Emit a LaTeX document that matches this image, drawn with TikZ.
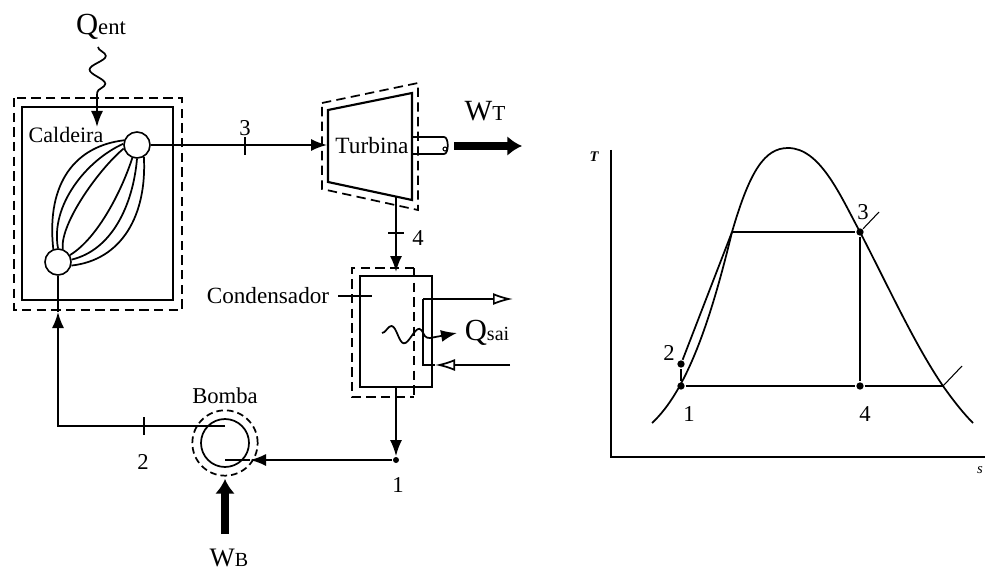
\documentclass[tikz,border=0pt]{standalone}
\usepackage{fontspec}
\setmainfont{Liberation Serif}
\usetikzlibrary{arrows.meta,decorations.pathmorphing}
\tikzset{
  lbl/.style={inner sep=0pt,font=\fontsize{17}{17}\selectfont},
  flow/.style={-{Latex[length=12pt,width=9pt]}},
  hollow/.style={-{Latex[open,length=15pt,width=9pt]}},
  work/.style={line width=6pt,-{Latex[length=11pt,width=15pt]}},
  box/.style={line width=1.6pt},
  dashbox/.style={line width=1.3pt,dash pattern=on 7pt off 4pt},
  drum/.style={circle,draw,fill=white,line width=1.2pt,minimum size=19.5pt,inner sep=0pt},
  tickh/.style={fill=black,inner sep=0pt,minimum width=1pt,minimum height=13pt},
  tickv/.style={fill=black,inner sep=0pt,minimum width=12pt,minimum height=1pt},
  state/.style={circle,fill=black,inner sep=0pt,minimum size=5.5pt},
  wave/.style={decorate,decoration={snake,segment length=21pt,amplitude=6pt}},
}
\begin{document}
\begin{tikzpicture}[x=0.75pt,y=-0.75pt,line width=1.3pt]
\useasboundingbox (0,0) rectangle (985,574);
% caldeira
\draw[dashbox] (14,98) rectangle (182,310);
\draw[box] (22,107) rectangle (173,300);
\node[lbl,font=\fontsize{16.5}{16.5}\selectfont] (caldeira) at (66,135) {Caldeira};
\node[drum] (drumtop) at (137,145) {};
\node[drum] (drumbot) at (58,262) {};
\draw (drumtop.160) .. controls (76,146) and (46,182) .. (drumbot.110);
\draw (drumtop.175) .. controls (87,160) and (50,205) .. (drumbot.90);
\draw (drumtop.195) .. controls (100,168) and (60,223) .. (drumbot.70);
\draw (drumtop.250) .. controls (122,190) and (98,238) .. (drumbot.30);
\draw (drumtop.270) .. controls (133,205) and (112,250) .. (drumbot.10);
\draw (drumtop.300) .. controls (147,215) and (122,260) .. (drumbot.345);
% calor de entrada
\node[font=\fontsize{23}{23}\selectfont,inner sep=0pt] (qent) at (101,27) {Q{\fontsize{17}{17}\selectfont ent}};
\coordinate (qenta) at (98,47);
\coordinate (qentb) at (97,100);
\coordinate (qentc) at (97,127);
\draw[wave] (qenta) -- (qentb);
\draw[flow] (qentb) -- (qentc);
% turbina
\draw[box] (328,110) -- (412,93) -- (412,200) -- (328,182) -- cycle;
\draw[dashbox] (322,103) -- (418,83) -- (418,210) -- (322,189) -- cycle;
\node[lbl,font=\fontsize{17.5}{17.5}\selectfont] (turbina) at (372,146) {Turbina};
\coordinate (tin) at (327,145);
\coordinate (tout) at (396,197);
\draw[flow] (drumtop) -- (tin);
\node[tickh] (t3) at (245,146) {};
\node[lbl] (n3) at (245,128) {3};
\draw (412,137) -- (444,137) .. controls (449,137) and (449,154) .. (444,154) -- (412,154);
\node[draw,circle,inner sep=0pt,minimum size=3pt,line width=.8pt] (eixo) at (445,149) {};
\coordinate (wta) at (454,146);
\coordinate (wtb) at (522,146);
\draw[work] (wta) -- (wtb);
\node[font=\fontsize{22}{22}\selectfont,inner sep=0pt] (wt) at (485,111) {W{\fontsize{16}{16}\selectfont T}};
% condensador
\draw[box] (360,276) rectangle (432,387);
\draw[dashbox] (414,268) -- (352,268) -- (352,397) -- (414,397);
\draw[dashbox] (414,268) -- (414,397);
\coordinate (cin) at (396,272);
\coordinate (cout) at (396,387);
\draw[flow] (tout) -- (cin);
\node[tickv] (t4) at (396,233) {};
\node[lbl] (n4) at (418,238) {4};
\node[lbl,font=\fontsize{17.4}{17.4}\selectfont] (condensador) at (268,296) {Condensador};
\coordinate (ca) at (338,296);
\coordinate (cb) at (372,296);
\draw (ca) -- (cb);
\coordinate (sa) at (513,299);
\coordinate (sb) at (423,299);
\coordinate (sc) at (423,365);
\coordinate (sd) at (435,365);
\coordinate (se) at (510,365);
\draw[hollow] (sb) -- (sa);
\draw (sb) -- (sc) -- (sd);
\draw[hollow] (se) -- (sd);
\coordinate (qsz) at (382,333);
\coordinate (qsa) at (430,338);
\coordinate (qsb) at (457,333);
\draw[wave] (qsz) -- (qsa);
\draw[flow] (qsa) -- (qsb);
\node[font=\fontsize{23}{23}\selectfont,inner sep=0pt] (qsai) at (487,333) {Q{\fontsize{15}{15}\selectfont sai}};
% bomba
\node[circle,draw,minimum size=36pt,inner sep=0pt] (bomba) at (225,443) {};
\node[circle,draw,dashbox,dash pattern=on 5pt off 3pt,minimum size=49pt,inner sep=0pt] (bombaext) at (225,443) {};
\node[lbl] (bombalbl) at (225,396) {Bomba};
\node[state,minimum size=4.5pt] (j1) at (396,460) {};
\coordinate (ba) at (250,460);
\coordinate (bb) at (225,460);
\coordinate (bc) at (225,426);
\coordinate (bd) at (58,426);
\coordinate (be) at (58,312);
\draw[flow] (cout) -- (j1);
\draw[flow] (j1) -- (ba);
\draw (ba) -- (bb);
\draw[flow] (bc) -- (bd) -- (be);
\draw (be) -- (drumbot);
\node[tickh] (t2) at (144,426) {};
\node[lbl] (n2) at (143,462) {2};
\node[lbl] (n1) at (398,485) {1};
\coordinate (wba) at (225,534);
\coordinate (wbb) at (225,479);
\draw[work] (wba) -- (wbb);
\node[font=\fontsize{20}{20}\selectfont,inner sep=0pt] (wb) at (229,558) {W{\fontsize{15}{15}\selectfont B}};
% diagrama T-s
\coordinate (ytop) at (611,150);
\coordinate (orig) at (611,457);
\coordinate (xend) at (985,457);
\draw[line width=1.2pt] (ytop) -- (orig) -- (xend);
\node[lbl,font=\fontsize{11}{11}\selectfont\itshape\bfseries] (tlbl) at (594,157) {T};
\node[lbl,font=\fontsize{11}{11}\selectfont\itshape] (slbl) at (980,470) {s};
\draw (652,423) .. controls (688,390) and (712,315) .. (732,232) .. controls (750,170) and (765,148) .. (788,148) .. controls (820,148) and (840,195) .. (860,232) .. controls (890,290) and (915,345) .. (943,386) .. controls (955,403) and (965,415) .. (973,423);
\node[state] (s1) at (681,386) {};
\node[state] (s2) at (681,364) {};
\node[state] (s3) at (860,232) {};
\node[state] (s4) at (860,386) {};
\coordinate (fa) at (732,232);
\coordinate (fb) at (943,386);
\coordinate (ea) at (879,212);
\coordinate (eb) at (962,366);
\draw (s1) -- (s2);
\draw (s2) -- (fa);
\draw[box] (fa) -- (s3);
\draw[box] (s3) -- (s4);
\draw[box] (s1) -- (s4);
\draw (s4) -- (fb);
\draw[line width=.8pt] (s3) -- (ea);
\draw[line width=.8pt] (fb) -- (eb);
\node[lbl] (l1) at (689,414) {1};
\node[lbl] (l2) at (669,353) {2};
\node[lbl] (l3) at (863,212) {3};
\node[lbl] (l4) at (865,414) {4};
\end{tikzpicture}
\end{document}
